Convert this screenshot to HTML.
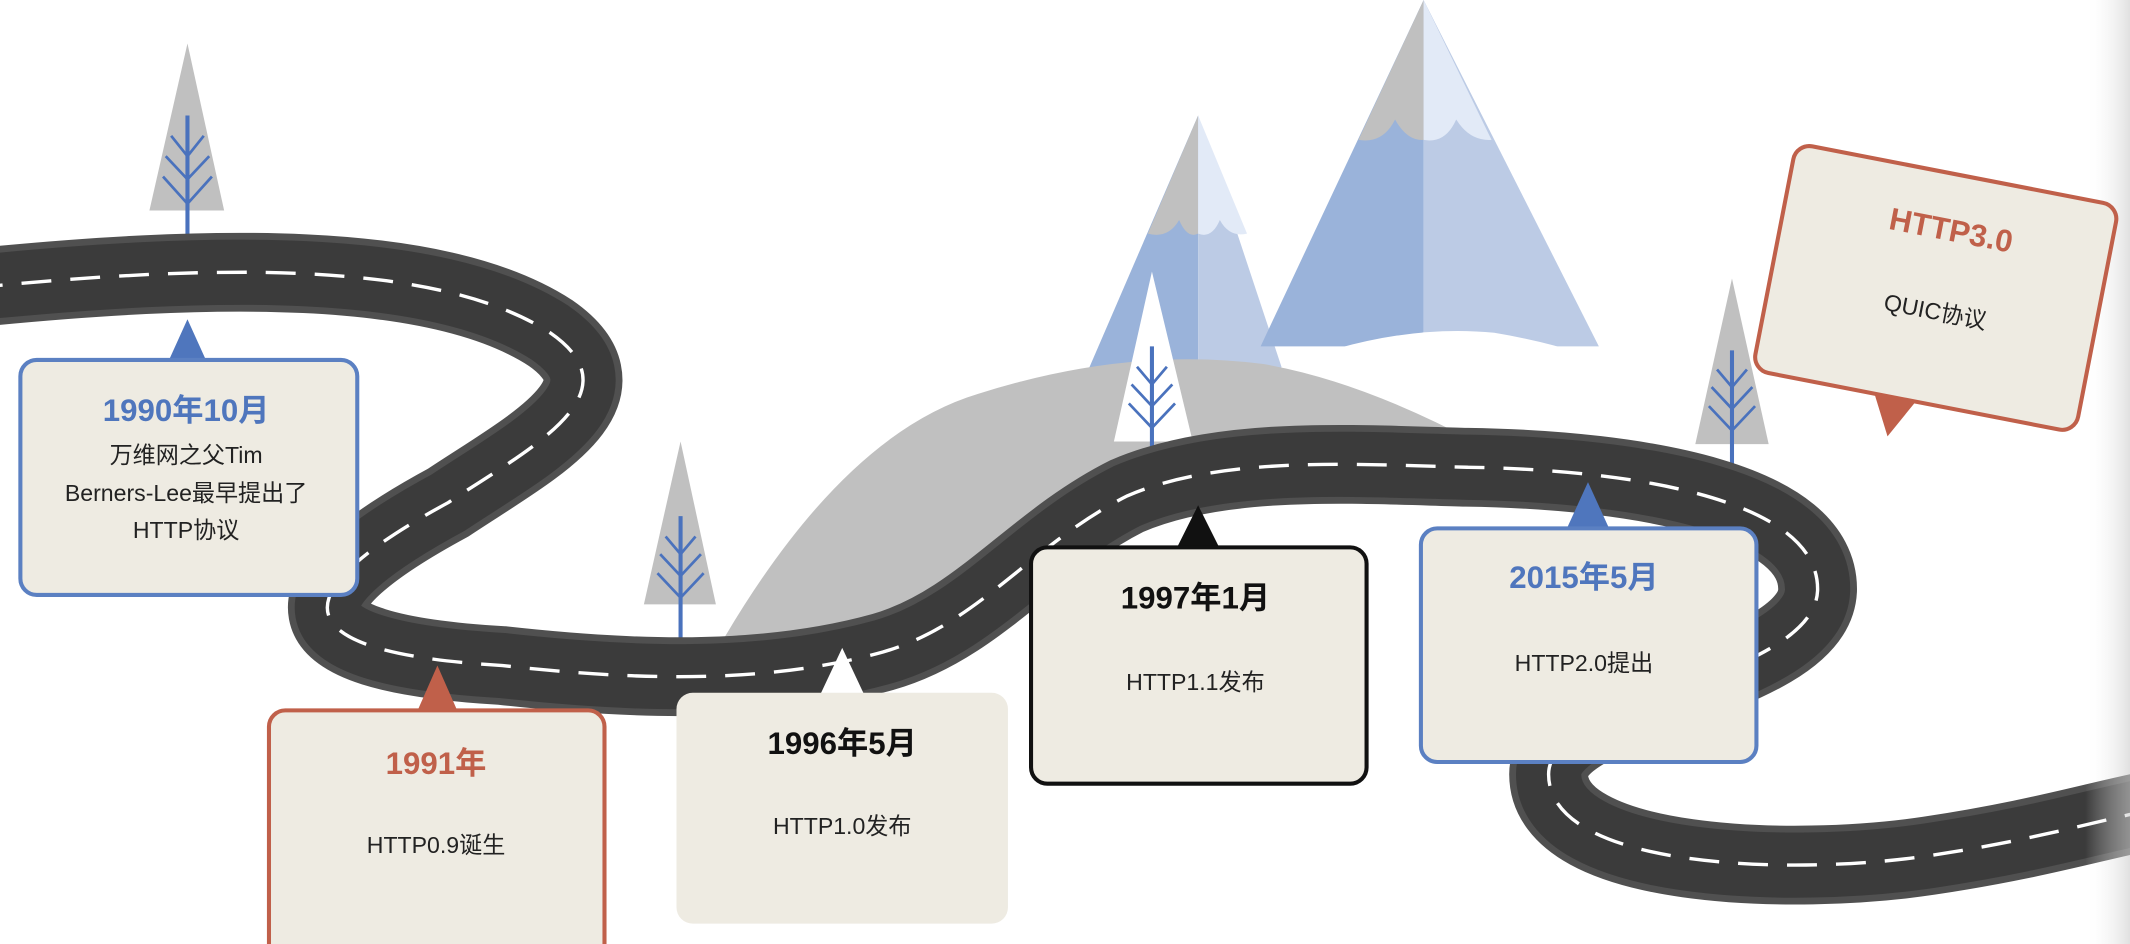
<!DOCTYPE html>
<html><head><meta charset="utf-8"><style>
html,body{margin:0;padding:0;background:#fff;overflow:hidden}
svg{display:block}
text{font-family:"Liberation Sans","Noto Sans CJK SC",sans-serif;text-anchor:middle}
.t{font-weight:bold;font-size:23px}
.s{font-size:17px;fill:#222}
</style></head><body>
<svg width="2130" height="944" viewBox="0 0 1568 695" preserveAspectRatio="none" xmlns="http://www.w3.org/2000/svg">
<defs>
<linearGradient id="edge" x1="0" x2="1"><stop offset="0" stop-color="#fff" stop-opacity="0"/><stop offset="1" stop-color="#ccc"/></linearGradient>
</defs>
<polygon points="882,85 800,275 882,275" fill="#9ab3da"/>
<polygon points="882,85 882,275 945,275" fill="#bccbe5"/>
<path d="M882,85 L845,172 Q860,176 868,162 Q874,176 882,172 Z" fill="#c0c0c0"/>
<path d="M882,85 L882,172 Q892,176 898,162 Q905,175 918,172 Z" fill="#e2eaf7"/>
<polygon points="1048,0 928,255 1048,255" fill="#9ab3da"/>
<polygon points="1048,0 1048,255 1177,255" fill="#bccbe5"/>
<path d="M1048,0 L1000,103 Q1018,106 1027,88 Q1036,104 1048,103 Z" fill="#c0c0c0"/>
<path d="M1048,0 L1048,103 Q1064,106 1072,88 Q1082,104 1098,103 Z" fill="#e2eaf7"/>
<path d="M880,300 Q1000,235 1100,245 Q1160,255 1200,275 L1200,330 L880,330 Z" fill="#fff"/>
<path d="M530,475 Q620,320 720,290 Q830,255 930,268 Q1000,280 1085,325 L1085,350 L820,370 L620,480 Z" fill="#c0c0c0"/>
<g fill="none" stroke="#4a72bd" stroke-width="3">
<polygon points="138,32 110,155 165,155" fill="#c0c0c0" stroke="none"/>
<line x1="138" y1="85" x2="138" y2="182"/><path d="M126,100 L138,115 L150,100 M122,115 L138,132 L154,115 M120,130 L138,150 L156,130" stroke-width="2"/>
<polygon points="501,325 474,445 527,445" fill="#c0c0c0" stroke="none"/>
<line x1="501" y1="380" x2="501" y2="470"/><path d="M490,395 L501,408 L512,395 M486,408 L501,424 L516,408 M484,422 L501,440 L518,422" stroke-width="2"/>
<polygon points="848,200 820,325 878,325" fill="#fff" stroke="none"/>
<line x1="848" y1="255" x2="848" y2="348"/><path d="M837,270 L848,283 L859,270 M833,283 L848,299 L863,283 M831,297 L848,315 L865,297" stroke-width="2"/>
<polygon points="1275,205 1248,327 1302,327" fill="#c0c0c0" stroke="none"/>
<line x1="1275" y1="258" x2="1275" y2="352"/><path d="M1264,272 L1275,285 L1286,272 M1260,285 L1275,301 L1290,285 M1258,299 L1275,317 L1292,299" stroke-width="2"/>
</g>
<g fill="none">
<path d="M-20,212 C150,195 320,190 405,245 C470,290 390,330 330,370 C210,435 200,480 370,490 C460,500 560,505 650,480 C720,460 760,400 830,365 C900,335 1000,342 1080,344 C1210,346 1340,370 1338,435 C1335,500 1140,515 1140,570 C1140,640 1320,645 1420,630 C1500,618 1540,605 1590,595" stroke="#505050" stroke-width="58"/>
<path d="M-20,212 C150,195 320,190 405,245 C470,290 390,330 330,370 C210,435 200,480 370,490 C460,500 560,505 650,480 C720,460 760,400 830,365 C900,335 1000,342 1080,344 C1210,346 1340,370 1338,435 C1335,500 1140,515 1140,570 C1140,640 1320,645 1420,630 C1500,618 1540,605 1590,595" stroke="#3b3b3b" stroke-width="48"/>
<path d="M-20,212 C150,195 320,190 405,245 C470,290 390,330 330,370 C210,435 200,480 370,490 C460,500 560,505 650,480 C720,460 760,400 830,365 C900,335 1000,342 1080,344 C1210,346 1340,370 1338,435 C1335,500 1140,515 1140,570 C1140,640 1320,645 1420,630 C1500,618 1540,605 1590,595" stroke="#fff" stroke-width="2.5" stroke-dasharray="22,14"/>
</g>
<rect x="1535" y="0" width="33" height="695" fill="url(#edge)" opacity="0.6"/>
<polygon points="138,235 124,266 152,266" fill="#4f76bd"/>
<rect x="15" y="265" width="248" height="173" rx="12" fill="#eeebe2" stroke="#5b80c2" stroke-width="3"/>
<text x="137" y="310" class="t" fill="#4f76bd">1990年10月</text>
<text x="137" y="341" class="s">万维网之父Tim</text>
<text x="137" y="369" class="s">Berners-Lee最早提出了</text>
<text x="137" y="396" class="s">HTTP协议</text>
<polygon points="322,490 307,524 337,524" fill="#c0604a"/>
<rect x="198" y="523" width="247" height="190" rx="12" fill="#eeebe2" stroke="#c0604a" stroke-width="3"/>
<text x="321" y="570" class="t" fill="#c0604a">1991年</text>
<text x="321" y="628" class="s">HTTP0.9诞生</text>
<polygon points="620,477 604,511 636,511" fill="#fff"/>
<rect x="498" y="510" width="244" height="170" rx="12" fill="#eeebe2"/>
<text x="620" y="555" class="t" fill="#111">1996年5月</text>
<text x="620" y="614" class="s">HTTP1.0发布</text>
<polygon points="882,372 866,404 898,404" fill="#111"/>
<rect x="759" y="403" width="247" height="174" rx="12" fill="#eeebe2" stroke="#111" stroke-width="3"/>
<text x="880" y="448" class="t" fill="#111">1997年1月</text>
<text x="880" y="508" class="s">HTTP1.1发布</text>
<polygon points="1169,355 1153,390 1185,390" fill="#4f76bd"/>
<rect x="1046" y="389" width="247" height="172" rx="12" fill="#eeebe2" stroke="#5b80c2" stroke-width="3"/>
<text x="1166" y="433" class="t" fill="#4f76bd">2015年5月</text>
<text x="1166" y="494" class="s">HTTP2.0提出</text>
<g transform="rotate(11 1425 212)">
<rect x="1304" y="127" width="242" height="170" rx="12" fill="#eeebe2" stroke="#c0604a" stroke-width="3"/>
<polygon points="1395,296 1427,296 1411,326" fill="#c0604a"/>
<text x="1428" y="176" class="t" fill="#c0604a">HTTP3.0</text>
<text x="1428" y="235" class="s">QUIC协议</text>
</g>
</svg>
</body></html>
